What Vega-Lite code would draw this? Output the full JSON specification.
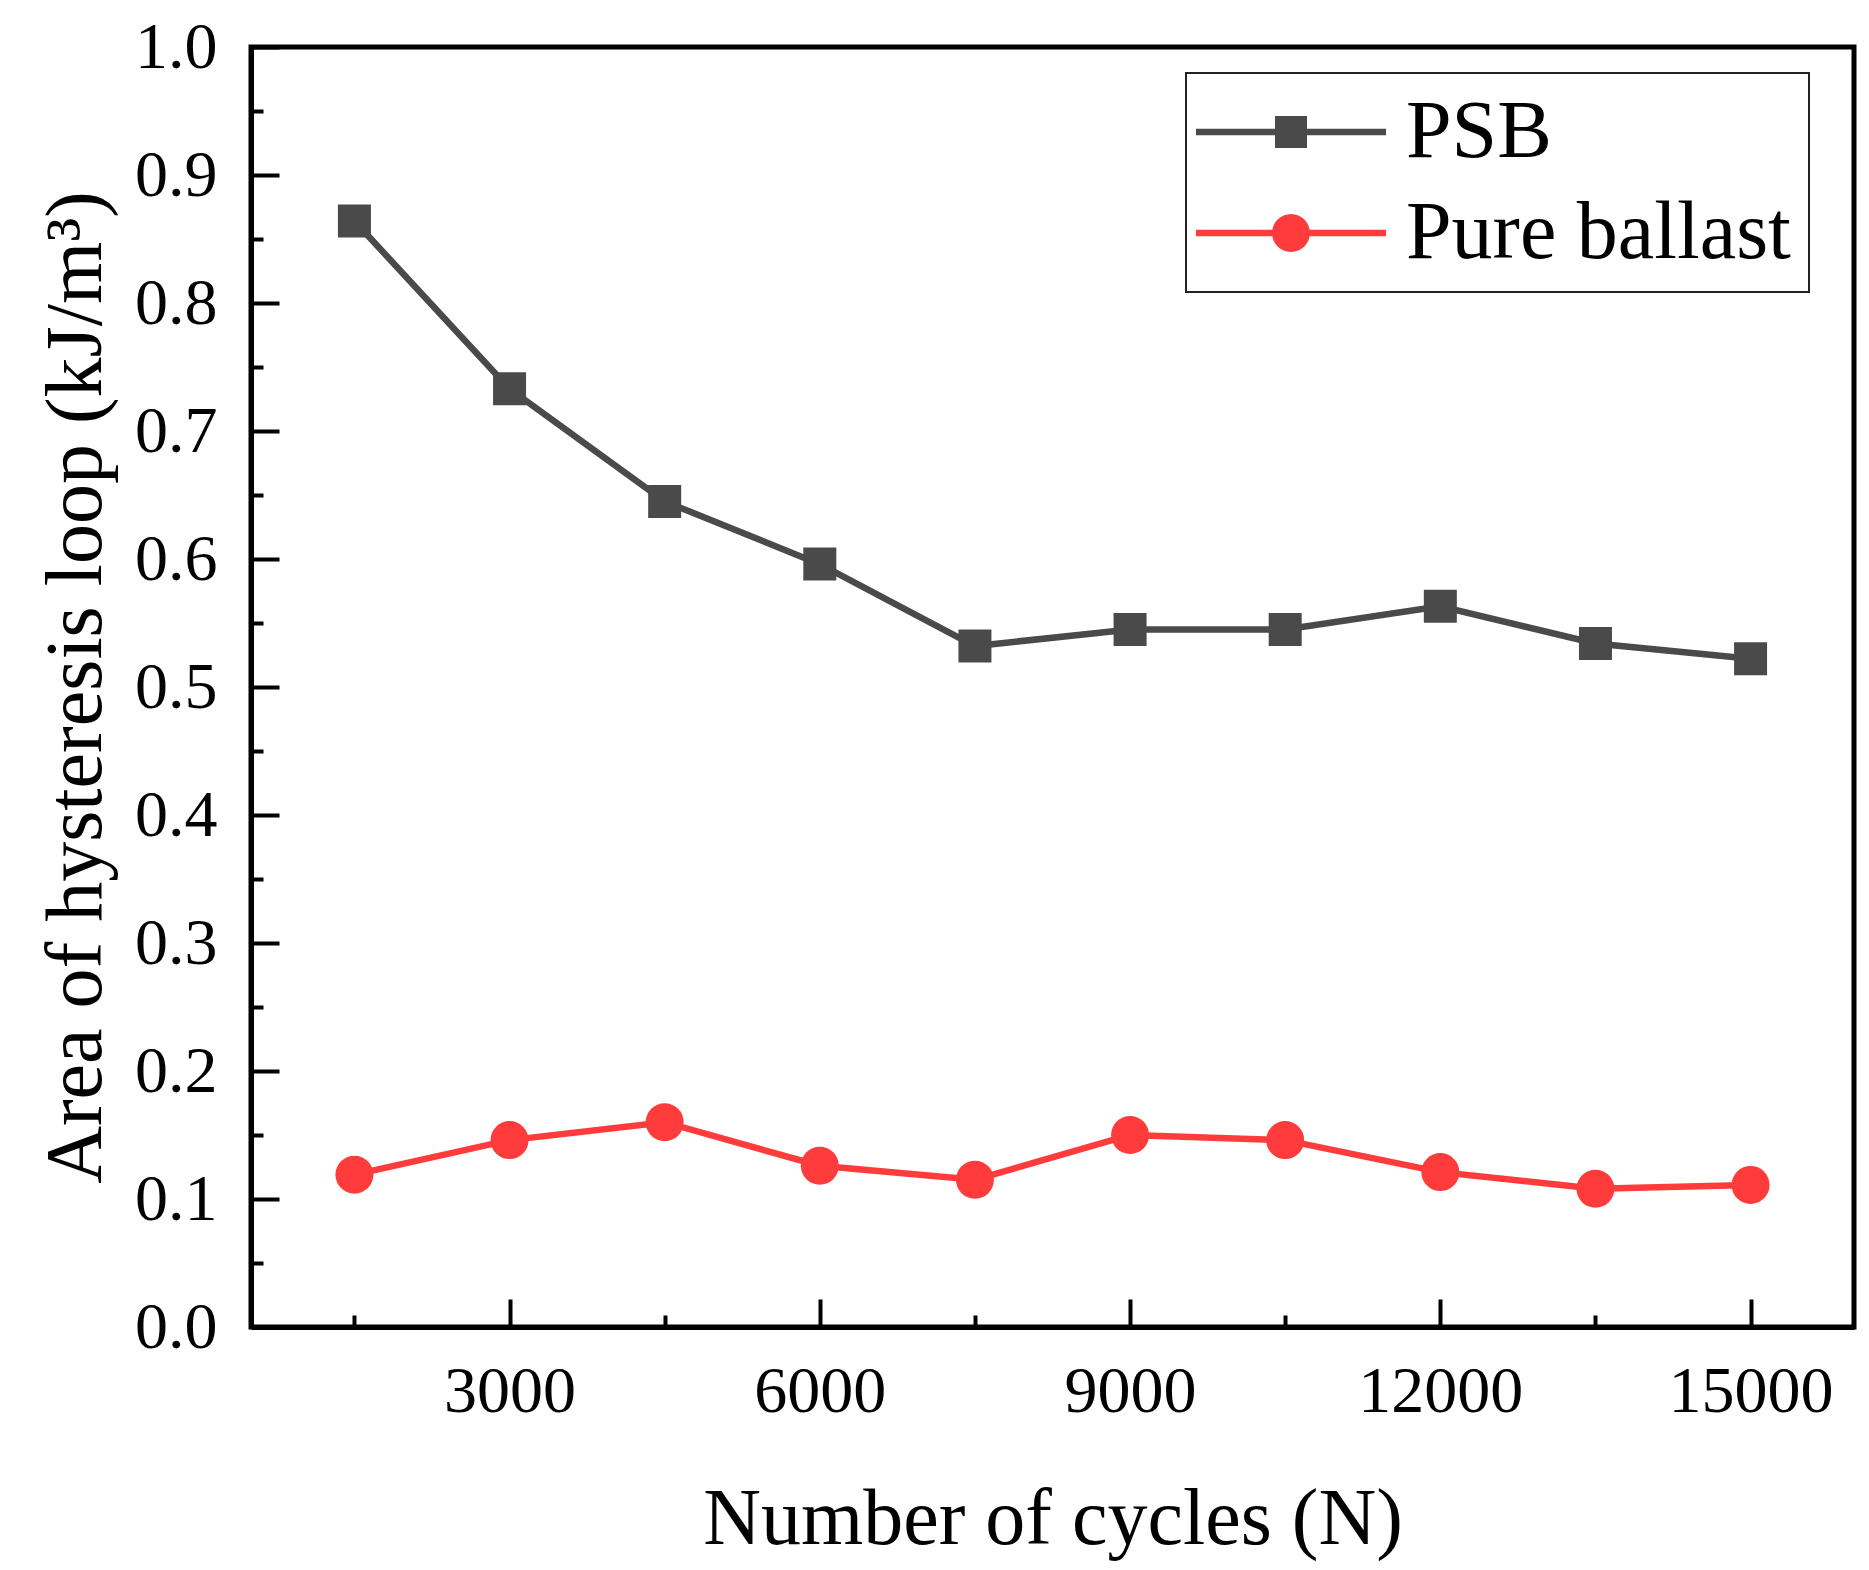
{
  "$schema": "https://vega.github.io/schema/vega-lite/v6.json",
  "width": 1603,
  "height": 1280,
  "autosize": "none",
  "padding": {"left": 251, "top": 47, "right": 15, "bottom": 243},
  "background": "white",
  "config": {
    "view": {"stroke": "black", "strokeWidth": 5},
    "font": "Liberation Serif",
    "legend": {"strokeWidth": 2},
    "axis": {
      "grid": false,
      "domainColor": "black",
      "domainWidth": 5,
      "tickColor": "black",
      "tickWidth": 4,
      "labelFont": "Liberation Serif",
      "labelFontSize": 66,
      "labelColor": "black",
      "titleFont": "Liberation Serif",
      "titleFontSize": 80,
      "titleFontWeight": "normal",
      "titleColor": "black"
    }
  },
  "data": {
    "values": [
      {"cycles": 1500, "area": 0.864, "series": "PSB"},
      {"cycles": 3000, "area": 0.733, "series": "PSB"},
      {"cycles": 4500, "area": 0.645, "series": "PSB"},
      {"cycles": 6000, "area": 0.596, "series": "PSB"},
      {"cycles": 7500, "area": 0.532, "series": "PSB"},
      {"cycles": 9000, "area": 0.545, "series": "PSB"},
      {"cycles": 10500, "area": 0.545, "series": "PSB"},
      {"cycles": 12000, "area": 0.563, "series": "PSB"},
      {"cycles": 13500, "area": 0.534, "series": "PSB"},
      {"cycles": 15000, "area": 0.522, "series": "PSB"},
      {"cycles": 1500, "area": 0.119, "series": "Pure ballast"},
      {"cycles": 3000, "area": 0.146, "series": "Pure ballast"},
      {"cycles": 4500, "area": 0.160, "series": "Pure ballast"},
      {"cycles": 6000, "area": 0.126, "series": "Pure ballast"},
      {"cycles": 7500, "area": 0.115, "series": "Pure ballast"},
      {"cycles": 9000, "area": 0.150, "series": "Pure ballast"},
      {"cycles": 10500, "area": 0.146, "series": "Pure ballast"},
      {"cycles": 12000, "area": 0.121, "series": "Pure ballast"},
      {"cycles": 13500, "area": 0.108, "series": "Pure ballast"},
      {"cycles": 15000, "area": 0.111, "series": "Pure ballast"}
    ]
  },
  "encoding": {
    "x": {
      "field": "cycles",
      "type": "quantitative",
      "title": "Number of cycles (N)",
      "scale": {"domain": [500, 16000], "nice": false, "zero": false},
      "axis": {
        "values": [1500, 3000, 4500, 6000, 7500, 9000, 10500, 12000, 13500, 15000],
        "labelExpr": "datum.value % 3000 === 0 ? format(datum.value, 'd') : ''",
        "tickSize": {"condition": {"test": "datum.value % 3000 === 0", "value": -28}, "value": -12},
        "labelPadding": 60,
        "titlePadding": 56
      }
    },
    "y": {
      "field": "area",
      "type": "quantitative",
      "title": "Area of hysteresis loop (kJ/m³)",
      "scale": {"domain": [0, 1], "nice": false},
      "axis": {
        "values": [0, 0.05, 0.1, 0.15, 0.2, 0.25, 0.3, 0.35, 0.4, 0.45, 0.5, 0.55, 0.6, 0.65, 0.7, 0.75, 0.8, 0.85, 0.9, 0.95, 1.0],
        "labelExpr": "abs(datum.value * 10 - round(datum.value * 10)) < 0.001 ? format(datum.value, '.1f') : ''",
        "tickSize": {"condition": {"test": "abs(datum.value * 10 - round(datum.value * 10)) < 0.001", "value": -28}, "value": -12},
        "labelPadding": 62,
        "titlePadding": 17
      }
    },
    "color": {
      "field": "series",
      "type": "nominal",
      "scale": {"domain": ["PSB", "Pure ballast"], "range": ["#4a4a4a", "#ff3b3b"]},
      "legend": {
        "title": null,
        "orient": "none",
        "legendX": 935,
        "legendY": 26,
        "padding": 18,
        "rowPadding": 19,
        "strokeColor": "#222222",
        "fillColor": "white",
        "symbolSize": 1089,
        "symbolOffset": 46,
        "symbolStrokeWidth": 0,
        "symbolOpacity": 1,
        "symbolType": {"expr": "datum.value === 'PSB' ? 'M-5.76,-0.19H5.76V0.19H-5.76ZM-0.97,-0.97H0.97V0.97H-0.97Z' : 'M-5.76,-0.19H5.76V0.19H-5.76ZM-1.15,0A1.15,1.15 0 1,1 1.15,0A1.15,1.15 0 1,1 -1.15,0Z'"},
        "labelOffset": 74,
        "labelLimit": 1000,
        "labelFont": "Liberation Serif",
        "labelFontSize": 82,
        "labelColor": "black",
        "labelBaseline": "middle"
      }
    }
  },
  "layer": [
    {
      "transform": [{"filter": "datum.series === 'PSB'"}],
      "mark": {"type": "point", "filled": true, "opacity": 1, "shape": "square", "size": 1089}
    },
    {
      "transform": [{"filter": "datum.series === 'Pure ballast'"}],
      "mark": {"type": "point", "filled": true, "opacity": 1, "shape": "circle", "size": 1444}
    },
    {
      "mark": {"type": "line", "strokeWidth": 6.5}
    }
  ]
}
